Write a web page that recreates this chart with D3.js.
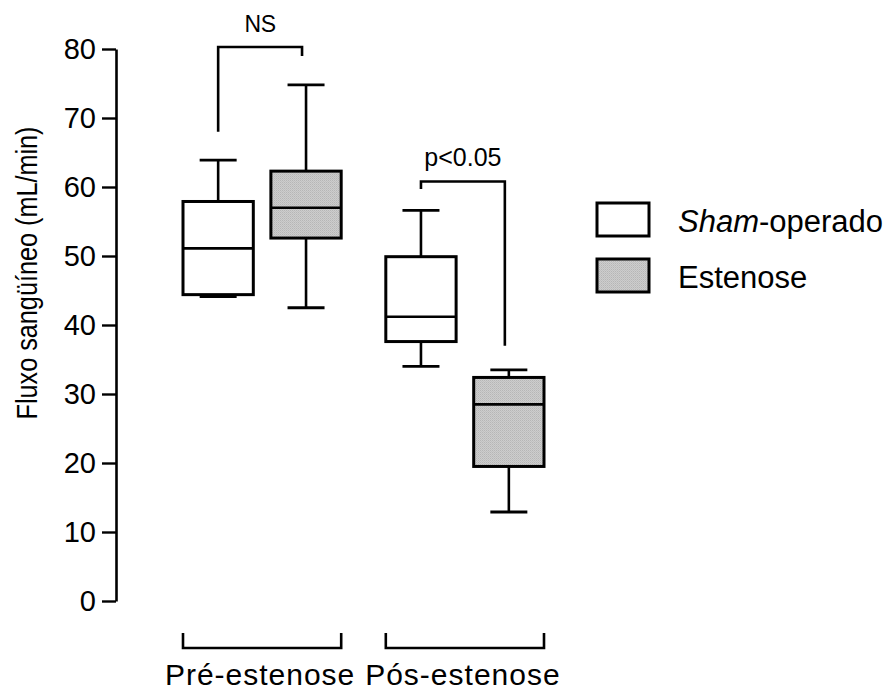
<!DOCTYPE html>
<html>
<head>
<meta charset="utf-8">
<script src="https://cdn.jsdelivr.net/npm/d3@7"></script>
<style>
  html, body { margin: 0; padding: 0; background: #fff; }
  svg { display: block; font-family: "Liberation Sans", Arial, Helvetica, sans-serif; }
</style>
</head>
<body>
<svg id="chart" width="888" height="693"></svg>
<script>
// Blood flow (mL/min) before and after stenosis, sham vs stenosis groups
const periods = ["Pré-estenose", "Pós-estenose"];
const groups = ["Sham-operado", "Estenose"];

// five-number summaries [min, q1, median, q3, max], one row per period
const shamStats = [
  [44.1, 44.4, 51.1, 57.9, 63.9],
  [34.0, 37.6, 41.2, 49.9, 56.6]
];
const estenoseStats = [
  [42.5, 52.6, 57.0, 62.3, 74.8],
  [12.9, 19.5, 28.5, 32.4, 33.5]
];

const yTicks = [0, 10, 20, 30, 40, 50, 60, 70, 80];

// significance brackets: label, top value, left-leg end, right-leg end
const sigLabels = ["NS", "p<0.05"];
const sigTop = [80.3, 60.8];
const sigLeftEnd = [68.0, 59.7];
const sigRightEnd = [79.0, 37.0];

const svg = d3.select("#chart");
const fontStack = '"Liberation Sans", Arial, Helvetica, sans-serif';

// fine dithered grey texture for the stenosis boxes
const defs = svg.append("defs");
const pat = defs.append("pattern")
  .attr("id", "grey")
  .attr("patternUnits", "userSpaceOnUse")
  .attr("width", 2).attr("height", 2);
pat.append("rect").attr("width", 2).attr("height", 2).attr("fill", "#cdcdcd");
pat.append("rect").attr("width", 1).attr("height", 1).attr("fill", "#b6b6b6");
pat.append("rect").attr("x", 1).attr("y", 1).attr("width", 1).attr("height", 1).attr("fill", "#c0c0c0");

const fills = { "Sham-operado": "#ffffff", "Estenose": "url(#grey)" };

const y = d3.scaleLinear().domain([0, 80]).range([601, 49]);
const x0 = d3.scaleBand().domain(periods).range([183, 544]).paddingInner(0.22);
const x1 = d3.scaleBand().domain(groups).range([0, x0.bandwidth()]).paddingInner(0.2);

const boxes = [];
periods.forEach((p, i) => {
  boxes.push({ period: p, group: groups[0], s: shamStats[i] });
  boxes.push({ period: p, group: groups[1], s: estenoseStats[i] });
});

// y axis
const yAxis = d3.axisLeft(y).tickValues(yTicks).tickSize(14).tickPadding(6).tickSizeOuter(0);
const gy = svg.append("g").attr("transform", "translate(116,0)").call(yAxis);
gy.attr("font-family", fontStack).attr("font-size", 29);
gy.select(".domain").attr("stroke", "#000").attr("stroke-width", 2.6);
gy.selectAll(".tick line").attr("stroke", "#000").attr("stroke-width", 2.4);
gy.selectAll(".tick text").attr("fill", "#000");

svg.append("text")
  .attr("transform", "translate(37,273) rotate(-90) scale(0.87,1)")
  .attr("text-anchor", "middle")
  .attr("font-size", 29)
  .attr("fill", "#000")
  .text("Fluxo sangüíneo (mL/min)");

// boxes
const bw = x1.bandwidth();
const capW = 37;
const g = svg.append("g").attr("stroke", "#000").attr("fill", "none");
boxes.forEach(b => {
  const left = x0(b.period) + x1(b.group);
  const cx = left + bw / 2;
  const [mn, q1, md, q3, mx] = b.s;
  const gb = g.append("g");
  gb.append("line").attr("x1", cx).attr("x2", cx).attr("y1", y(mx)).attr("y2", y(q3)).attr("stroke-width", 2.6);
  gb.append("line").attr("x1", cx).attr("x2", cx).attr("y1", y(q1)).attr("y2", y(mn)).attr("stroke-width", 2.6);
  gb.append("line").attr("x1", cx - capW / 2).attr("x2", cx + capW / 2).attr("y1", y(mx)).attr("y2", y(mx)).attr("stroke-width", 2.8);
  gb.append("line").attr("x1", cx - capW / 2).attr("x2", cx + capW / 2).attr("y1", y(mn)).attr("y2", y(mn)).attr("stroke-width", 2.8);
  gb.append("rect")
    .attr("x", left).attr("y", y(q3))
    .attr("width", bw).attr("height", y(q1) - y(q3))
    .attr("fill", fills[b.group]).attr("stroke-width", 3);
  gb.append("line").attr("x1", left).attr("x2", left + bw).attr("y1", y(md)).attr("y2", y(md)).attr("stroke-width", 2.6);
});

// significance brackets
periods.forEach((p, i) => {
  const xl = x0(p) + x1(groups[0]) + bw / 2;
  const xr = x0(p) + x1(groups[1]) + bw / 2 - 4;
  svg.append("path")
    .attr("d", `M${xl},${y(sigLeftEnd[i])}V${y(sigTop[i])}H${xr}V${y(sigRightEnd[i])}`)
    .attr("fill", "none").attr("stroke", "#000").attr("stroke-width", 2.6);
  svg.append("text")
    .attr("x", (xl + xr) / 2)
    .attr("y", y(sigTop[i]) - 15)
    .attr("text-anchor", "middle")
    .attr("font-size", i === 0 ? 23 : 25)
    .attr("letter-spacing", i === 0 ? -0.5 : 0)
    .attr("fill", "#000")
    .text(sigLabels[i]);
});

// period brackets below the axis
periods.forEach(p => {
  const a = x0(p), b2 = x0(p) + x0.bandwidth();
  svg.append("path")
    .attr("d", `M${a},633V648H${b2}V633`)
    .attr("fill", "none").attr("stroke", "#000").attr("stroke-width", 2.6);
  svg.append("text")
    .attr("x", (a + b2) / 2 - 2)
    .attr("y", 685)
    .attr("text-anchor", "middle")
    .attr("font-size", 30)
    .attr("letter-spacing", 1)
    .attr("fill", "#000")
    .text(p);
});

// legend
const legend = svg.append("g").attr("transform", "translate(597,203)");
groups.forEach((grp, i) => {
  const row = legend.append("g").attr("transform", `translate(0,${i * 56})`);
  row.append("rect").attr("width", 52).attr("height", 33)
    .attr("fill", fills[grp]).attr("stroke", "#000").attr("stroke-width", 3);
  const t = row.append("text").attr("x", 81).attr("y", 29).attr("font-size", 31).attr("fill", "#000");
  if (grp === "Sham-operado") {
    t.append("tspan").attr("font-style", "italic").text("Sham");
    t.append("tspan").text("-operado");
  } else {
    t.text(grp);
  }
});
</script>
</body>
</html>
